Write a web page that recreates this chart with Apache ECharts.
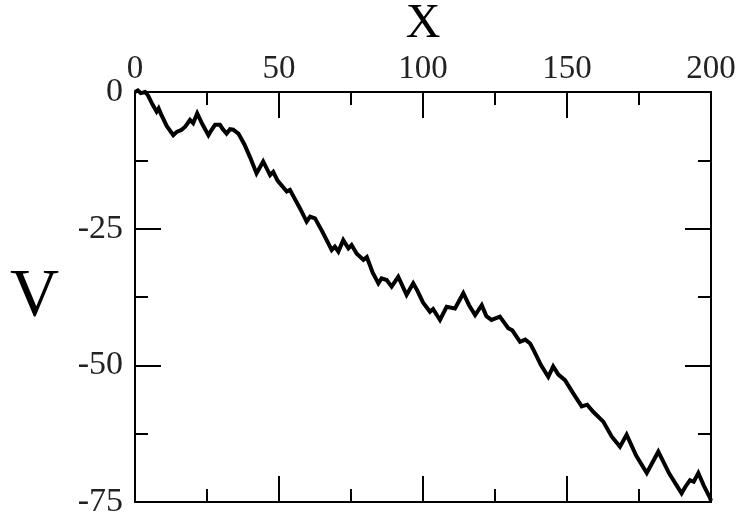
<!DOCTYPE html>
<html>
<head>
<meta charset="utf-8">
<script src="https://cdn.jsdelivr.net/npm/echarts@6/dist/echarts.min.js"></script>
<style>
  html, body { margin: 0; padding: 0; background: #fff; }
  #chart { width: 739px; height: 518px; }
</style>
</head>
<body>
<div id="chart"></div>
<script>
// Walk trace: position X and value V
const xs = [0, 1, 2, 3.5, 4.5, 6, 7.5, 8.2, 9, 11, 13.3, 14.5, 16.2, 17.5, 19.1, 20.2, 21.6, 23.5, 25.5, 26.5,
  27.8, 29.5, 30.5, 31.8, 33, 34.1, 35.9, 38, 40, 42.2, 44.5, 46.9, 48, 49.5, 52.7, 53.8, 57.3, 59.6, 60.8, 62.5,
  65, 68.3, 69.4, 70.6, 72.3, 74.1, 75.2, 77, 79.3, 80.5, 82.5, 84.5, 85.6, 87.4, 89.1, 91.4, 94.3, 96.6, 98, 100,
  102.4, 103.5, 105.9, 108.2, 111.1, 114, 116, 118.1, 120.4, 122, 123.8, 126.7, 129.6, 131, 133.7, 135.5, 137.2, 138.5, 141, 143.5,
  145.2, 147, 149.3, 152, 155.1, 157, 159.1, 162.6, 165.5, 168.4, 170.7, 174, 177.7, 181.7, 185.5, 189.8, 191, 192.7, 194, 195.6,
  197.5, 199.7, 200];
const vs = [0, 0.3, -0.2, 0, -0.6, -2.2, -3.6, -3.0, -4.0, -6.2, -7.9, -7.3, -6.9, -6.3, -5.1, -5.7, -3.9, -6.0, -7.9, -7.0,
  -6.0, -6.0, -6.8, -7.6, -6.8, -6.9, -7.6, -9.6, -12.0, -14.9, -12.7, -15.2, -14.6, -16.2, -18.2, -17.9, -21.3, -23.7, -22.8, -23.1,
  -25.5, -28.9, -28.3, -29.2, -27.1, -28.6, -28.0, -29.6, -30.7, -30.2, -33.0, -35.0, -34.1, -34.4, -35.6, -33.8, -37.1, -35.0, -36.3, -38.5,
  -40.2, -39.7, -41.7, -39.3, -39.6, -36.8, -39.0, -40.8, -39.0, -41.0, -41.7, -41.1, -43.2, -43.6, -45.7, -45.3, -46.0, -47.3, -50.0, -52.1,
  -50.2, -51.7, -52.7, -55.0, -57.5, -57.2, -58.5, -60.3, -63.0, -64.9, -62.7, -66.5, -69.7, -65.8, -69.8, -73.4, -72.3, -71.0, -71.3, -69.7,
  -72.0, -74.3, -74.8];

const xTicks = { min: 0, max: 200, interval: 50 };
const vTicks = { min: -75, max: 0, interval: 25 };

const serif = '"Liberation Serif", "DejaVu Serif", serif';
const ink = '#000';

const axisLine = { show: true, onZero: false, lineStyle: { color: ink, width: 2 } };
const tick = { show: true, inside: true, length: 26, lineStyle: { color: ink, width: 2 } };
const minor = { show: true, splitNumber: 2, length: 13, lineStyle: { color: ink, width: 2 } };

const chart = echarts.init(document.getElementById('chart'), null, { renderer: 'canvas' });
chart.setOption({
  backgroundColor: '#fff',
  animation: false,
  grid: { left: 135, right: 28, top: 92, bottom: 16, containLabel: false, outerBoundsMode: 'none' },
  xAxis: [
    {
      type: 'value', position: 'top', min: xTicks.min, max: xTicks.max, interval: xTicks.interval,
      name: 'X', nameLocation: 'middle', nameGap: 36,
      nameTextStyle: { fontFamily: serif, fontSize: 48, color: ink },
      axisLine, axisTick: tick, minorTick: minor, splitLine: { show: false },
      axisLabel: { fontFamily: serif, fontSize: 33, color: '#222', margin: 6 }
    },
    {
      type: 'value', position: 'bottom', min: xTicks.min, max: xTicks.max, interval: xTicks.interval,
      axisLine, axisTick: tick, minorTick: minor, splitLine: { show: false },
      axisLabel: { show: false }
    }
  ],
  yAxis: [
    {
      type: 'value', position: 'left', min: vTicks.min, max: vTicks.max, interval: vTicks.interval,
      name: 'V', nameLocation: 'middle', nameGap: 76, nameRotate: 0,
      nameTextStyle: { fontFamily: serif, fontSize: 68, color: ink },
      axisLine, axisTick: tick, minorTick: minor, splitLine: { show: false },
      axisLabel: { fontFamily: serif, fontSize: 34, color: '#222', margin: 12 }
    },
    {
      type: 'value', position: 'right', min: vTicks.min, max: vTicks.max, interval: vTicks.interval,
      axisLine, axisTick: tick, minorTick: minor, splitLine: { show: false },
      axisLabel: { show: false }
    }
  ],
  series: [{
    type: 'line',
    xAxisIndex: 0, yAxisIndex: 0,
    data: xs.map((x, i) => [x, vs[i]]),
    showSymbol: false,
    clip: false,
    lineStyle: { color: ink, width: 4, join: 'miter' }
  }]
});
</script>
</body>
</html>
